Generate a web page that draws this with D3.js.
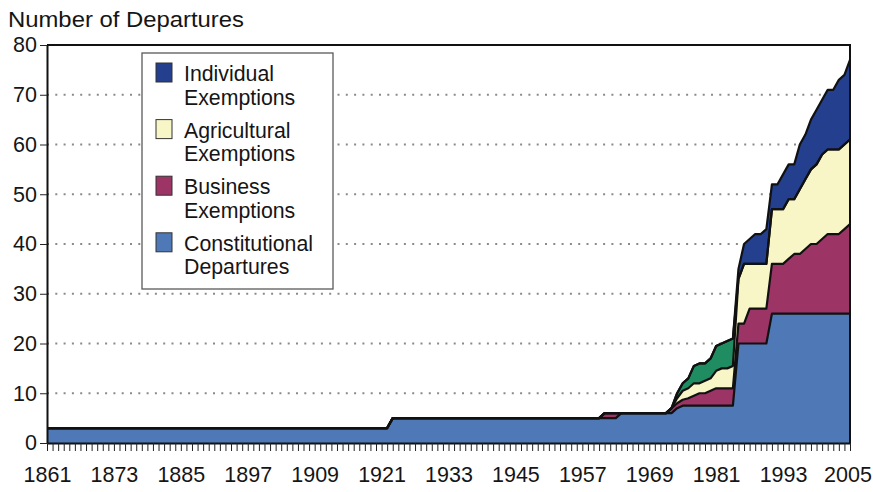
<!DOCTYPE html>
<html>
<head>
<meta charset="utf-8">
<script src="https://cdn.jsdelivr.net/npm/d3@7"></script>
<style>
body{margin:0;background:#fff;}
text{font-family:"Liberation Sans",Arial,sans-serif;fill:#151515;}
</style>
</head>
<body>
<svg id="chart" width="873" height="492"></svg>
<script>
// years where the counts change (areas are drawn straight between them)
var years = [1861, 1922, 1923, 1960, 1961, 1963, 1964, 1971,
    1972, 1973, 1974, 1975, 1976, 1977, 1978, 1979, 1980, 1981, 1982, 1983, 1984,
    1985, 1986, 1987, 1988, 1989, 1990,
    1991, 1992, 1993, 1994, 1995, 1996, 1997, 1998, 1999, 2000, 2001, 2002, 2003, 2004, 2005];

var constitutional = [3, 3, 5, 5, 5, 5, 6, 6,
    6, 6, 7, 7.5, 7.5, 7.5, 7.5, 7.5, 7.5, 7.5, 7.5, 7.5, 7.5,
    20, 20, 20, 20, 20, 20,
    26, 26, 26, 26, 26, 26, 26, 26, 26, 26, 26, 26, 26, 26, 26];
var business = [0, 0, 0, 0, 1, 1, 0, 0,
    0, 1, 1, 1.2, 1.5, 2, 2.5, 2.5, 3, 3.5, 3.5, 3.5, 3.5,
    4, 4, 7, 7, 7, 7,
    10, 10, 10, 11, 12, 12, 13, 14, 14, 15, 16, 16, 16, 17, 18];
var agricultural = [0, 0, 0, 0, 0, 0, 0, 0,
    0, 0, 1, 1.8, 2, 2.5, 2, 2.5, 2.5, 3.5, 4, 4, 4.5,
    9, 12, 9, 9, 9, 9,
    11, 11, 11, 12, 11, 13, 14, 15, 16, 17, 17, 17, 17, 17, 17];
var otherExemptions = [0, 0, 0, 0, 0, 0, 0, 0,
    0, 0, 1, 1.5, 2, 3.5, 4, 3.5, 4, 5, 5, 5.5, 5.5,
    0, 0, 0, 0, 0, 0,
    0, 0, 0, 0, 0, 0, 0, 0, 0, 0, 0, 0, 0, 0, 0];
var individual = [0, 0, 0, 0, 0, 0, 0, 0,
    0, 0, 0, 0, 0, 0, 0, 0, 0, 0, 0, 0, 0,
    2, 4, 5, 6, 6, 7,
    5, 5, 7, 7, 7, 9, 9, 10, 11, 11, 12, 12, 14, 14, 16];

var yTicks = [0, 10, 20, 30, 40, 50, 60, 70, 80];
var xTickLabels = [1861, 1873, 1885, 1897, 1909, 1921, 1933, 1945, 1957, 1969, 1981, 1993, 2005];

var keys = ["constitutional", "business", "agricultural", "other", "individual"];
var colors = {constitutional: "#4e78b6", business: "#9c3466", agricultural: "#f8f6c6",
    other: "#1f8c62", individual: "#233f8d"};
var legendItems = [
    {key: "individual", lines: ["Individual", "Exemptions"]},
    {key: "agricultural", lines: ["Agricultural", "Exemptions"]},
    {key: "business", lines: ["Business", "Exemptions"]},
    {key: "constitutional", lines: ["Constitutional", "Departures"]}
];

var table = years.map(function(yr, i){
    return {year: yr, constitutional: constitutional[i], business: business[i],
        agricultural: agricultural[i], other: otherExemptions[i], individual: individual[i]};
});

var svg = d3.select("#chart");
var x = d3.scaleLinear().domain([1861, 2005]).range([47, 850]);
var y = d3.scaleLinear().domain([0, 80]).range([443, 45]);

// dotted grid
svg.append("g").selectAll("line").data(yTicks.filter(function(d){ return d > 0 && d < 80; }))
    .enter().append("line")
    .attr("x1", x(1861)).attr("x2", x(2005))
    .attr("y1", function(d){ return y(d); }).attr("y2", function(d){ return y(d); })
    .attr("stroke", "#8a8a8a").attr("stroke-width", 2)
    .attr("stroke-dasharray", "2,6.3");

var series = d3.stack().keys(keys)(table);

var area = d3.area()
    .x(function(d){ return x(d.data.year); })
    .y0(function(d){ return y(d[0]); })
    .y1(function(d){ return y(d[1]); });
var topLine = d3.line()
    .x(function(d){ return x(d.data.year); })
    .y(function(d){ return y(d[1]); });

svg.append("g").selectAll("path").data(series).enter().append("path")
    .attr("d", area)
    .attr("fill", function(d){ return colors[d.key]; });
svg.append("g").selectAll("path").data(series).enter().append("path")
    .attr("d", topLine)
    .attr("fill", "none")
    .attr("stroke", "#111")
    .attr("stroke-width", 2.2)
    .attr("stroke-linejoin", "round");

// frame top and right
svg.append("path")
    .attr("d", "M" + x(1861) + "," + y(80) + "H" + x(2005) + "V" + y(0))
    .attr("fill", "none").attr("stroke", "#111").attr("stroke-width", 2);

var yAxis = svg.append("g").attr("transform", "translate(" + x(1861) + ",0)")
    .call(d3.axisLeft(y).tickValues(yTicks).tickSize(7).tickSizeOuter(0).tickPadding(3));
var xAxis = svg.append("g").attr("transform", "translate(0," + y(0) + ")")
    .call(d3.axisBottom(x).tickValues(d3.range(1861, 2006)).tickSize(8).tickSizeOuter(0).tickPadding(16)
        .tickFormat(function(d){ return xTickLabels.indexOf(d) >= 0 ? d : ""; }));

[yAxis, xAxis].forEach(function(g){
    g.select(".domain").attr("stroke", "#111").attr("stroke-width", 2);
    g.selectAll(".tick line").attr("stroke", "#222").attr("stroke-width", 1);
    g.selectAll(".tick text").attr("font-size", 21.5).attr("fill", "#151515")
        .style("font-family", "'Liberation Sans', Arial, sans-serif");
});
// keep the last year label inside the picture
xAxis.selectAll(".tick text").filter(function(d){ return d === 2005; }).attr("dx", -2.5);

// legend
var legend = svg.append("g");
legend.append("rect")
    .attr("x", 142).attr("y", 53).attr("width", 191).attr("height", 236)
    .attr("fill", "#fff").attr("stroke", "#5a5a5a").attr("stroke-width", 1.3);
var item = legend.selectAll("g.item").data(legendItems).enter().append("g")
    .attr("class", "item")
    .attr("transform", function(d, i){ return "translate(0," + (i * 56.6) + ")"; });
item.append("rect")
    .attr("x", 156).attr("y", 63).attr("width", 16).attr("height", 19)
    .attr("fill", function(d){ return colors[d.key]; })
    .attr("stroke", "#333").attr("stroke-width", 1);
item.each(function(d){
    var g = d3.select(this);
    d.lines.forEach(function(t, j){
        g.append("text").attr("x", 184).attr("y", 81 + j * 23.5)
            .attr("font-size", 21.3).text(t);
    });
});

svg.append("text").attr("x", 8).attr("y", 27)
    .attr("font-size", 21.5).attr("textLength", 236).attr("lengthAdjust", "spacingAndGlyphs")
    .text("Number of Departures");
</script>
</body>
</html>
